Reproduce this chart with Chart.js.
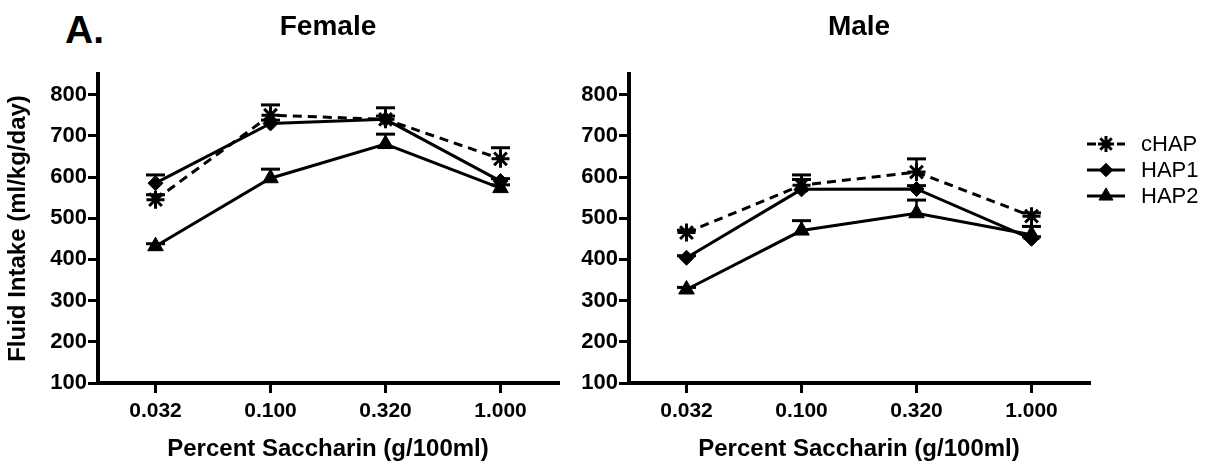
<!DOCTYPE html>
<html><head><meta charset="utf-8">
<script src="https://cdn.jsdelivr.net/npm/chart.js@4.4.1/dist/chart.umd.min.js"></script>
<style>
html,body{margin:0;padding:0;background:#fff;width:1222px;height:468px;overflow:hidden}
#c1{position:absolute;left:0;top:0}
#c2{position:absolute;left:575px;top:0}
#lab{position:absolute;left:65px;top:8px;font:bold 39px "Liberation Sans",Arial,sans-serif;color:#000}
</style></head><body>
<div id="lab">A.</div>
<canvas id="c1" width="575" height="468"></canvas>
<canvas id="c2" width="647" height="468"></canvas>
<script>
// ---- data ----
const categories = ['0.032', '0.100', '0.320', '1.000'];
const yTickValues = [100, 200, 300, 400, 500, 600, 700, 800];
const seriesNames = ['cHAP', 'HAP1', 'HAP2'];
const panelTitles = ['Female', 'Male'];

const femaleCHAP    = [545, 750, 740, 644];
const femaleCHAPErr = [12, 25, 28, 27];
const femaleHAP1    = [585, 730, 740, 590];
const femaleHAP1Err = [20, 8, 8, 6];
const femaleHAP2    = [432, 597, 680, 573];
const femaleHAP2Err = [6, 22, 24, 8];

const maleCHAP    = [465, 580, 612, 505];
const maleCHAPErr = [6, 25, 32, 8];
const maleHAP1    = [404, 570, 571, 450];
const maleHAP1Err = [5, 24, 8, 5];
const maleHAP2    = [327, 470, 512, 460];
const maleHAP2Err = [5, 24, 32, 20];

// ---- styles ----
const FONT = '"Liberation Sans", Arial, sans-serif';
Chart.defaults.font.family = FONT;
Chart.defaults.color = '#000';

const styles = [
  { pointStyle: 'star', pointRadius: 9, pointBorderWidth: 3, borderDash: [9, 6] },
  { pointStyle: 'rectRot', pointRadius: 7.5, pointBorderWidth: 1, borderDash: [] },
  { pointStyle: 'triangle', pointRadius: 9, pointBorderWidth: 1, borderDash: [] }
];

function makeDatasets(vals, errs) {
  return vals.map((v, i) => ({
    label: seriesNames[i],
    data: v,
    errorBars: errs[i],
    borderColor: '#000',
    backgroundColor: '#000',
    borderWidth: 3,
    borderDash: styles[i].borderDash,
    pointStyle: styles[i].pointStyle,
    pointRadius: styles[i].pointRadius,
    pointHoverRadius: styles[i].pointRadius,
    pointBorderWidth: styles[i].pointBorderWidth,
    pointBackgroundColor: '#000',
    pointBorderColor: '#000',
    fill: false,
    tension: 0,
    clip: false
  }));
}

const errorBarPlugin = {
  id: 'errorBars',
  beforeDatasetsDraw(chart) {
    const ctx = chart.ctx;
    const ys = chart.scales.y;
    ctx.save();
    ctx.strokeStyle = '#000';
    ctx.setLineDash([]);
    chart.data.datasets.forEach((ds, di) => {
      const meta = chart.getDatasetMeta(di);
      meta.data.forEach((pt, i) => {
        const e = ds.errorBars[i];
        const yTop = ys.getPixelForValue(ds.data[i] + e);
        ctx.lineWidth = 2.5;
        ctx.beginPath();
        ctx.moveTo(pt.x, pt.y);
        ctx.lineTo(pt.x, yTop);
        ctx.stroke();
        ctx.lineWidth = 3;
        ctx.beginPath();
        ctx.moveTo(pt.x - 9.5, yTop);
        ctx.lineTo(pt.x + 9.5, yTop);
        ctx.stroke();
      });
    });
    ctx.restore();
  }
};

const panelTitlePlugin = {
  id: 'panelTitle',
  afterDraw(chart, args, opts) {
    const ctx = chart.ctx;
    const a = chart.chartArea;
    ctx.save();
    ctx.font = 'bold 28px ' + FONT;
    ctx.fillStyle = '#000';
    ctx.textAlign = 'center';
    ctx.textBaseline = 'middle';
    ctx.fillText(opts.text, (a.left + a.right) / 2, opts.y);
    ctx.restore();
  }
};

const lineLegendPlugin = {
  id: 'lineLegend',
  afterDraw(chart, args, opts) {
    if (!opts.show) return;
    const ctx = chart.ctx;
    ctx.save();
    chart.data.datasets.forEach((ds, i) => {
      const y = opts.y0 + i * opts.dy;
      ctx.strokeStyle = '#000';
      ctx.lineWidth = 3;
      ctx.setLineDash(ds.borderDash || []);
      ctx.beginPath();
      ctx.moveTo(opts.x0, y);
      ctx.lineTo(opts.x0 + opts.len, y);
      ctx.stroke();
      ctx.setLineDash([]);
      ctx.fillStyle = '#000';
      ctx.lineWidth = ds.pointBorderWidth;
      Chart.helpers.drawPoint(ctx, { pointStyle: ds.pointStyle, radius: ds.pointRadius * 0.9, rotation: 0, borderWidth: ds.pointBorderWidth }, opts.x0 + opts.len / 2, y);
      ctx.font = '22px ' + FONT;
      ctx.textAlign = 'left';
      ctx.textBaseline = 'middle';
      ctx.fillText(ds.label, opts.x0 + opts.len + 16, y + 1);
    });
    ctx.restore();
  }
};

function makeChart(id, title, vals, errs, isLeft) {
  const xTickFont = { size: 21, weight: 'bold', family: FONT };
  const yTickFont = { size: 22, weight: 'bold', family: FONT };
  return new Chart(document.getElementById(id), {
    type: 'line',
    data: { labels: categories, datasets: makeDatasets(vals, errs) },
    plugins: [errorBarPlugin, panelTitlePlugin, lineLegendPlugin],
    options: {
      responsive: false,
      animation: false,
      devicePixelRatio: 1,
      layout: { padding: { left: 0, top: 74, bottom: 0, right: isLeft ? 17 : 133 } },
      plugins: {
        legend: { display: false },
        tooltip: { enabled: false },
        panelTitle: { text: title, y: 27 },
        lineLegend: { show: !isLeft, x0: 512, len: 38, y0: 144, dy: 26 }
      },
      scales: {
        x: {
          type: 'category',
          offset: true,
          grid: { display: true, drawOnChartArea: false, drawTicks: true, tickLength: 10, lineWidth: 3, color: '#000', offset: false },
          border: { display: true, width: 4, color: '#000' },
          ticks: { font: xTickFont, color: '#000', padding: 6, maxRotation: 0 },
          title: { display: true, text: 'Percent Saccharin (g/100ml)', font: { size: 24, weight: 'bold', family: FONT }, color: '#000', padding: { top: 4, bottom: 4 } },
          afterFit(s) { s.height = 85; }
        },
        y: {
          type: 'linear',
          min: 100,
          max: 850,
          ticks: { stepSize: 100, font: yTickFont, color: '#000', padding: 1 },
          afterBuildTicks(s) { s.ticks = yTickValues.map(v => ({ value: v })); },
          grid: { display: true, drawOnChartArea: false, drawTicks: true, tickLength: 10, lineWidth: 3, color: '#000' },
          border: { display: true, width: 4, color: '#000' },
          title: { display: isLeft, text: 'Fluid Intake (ml/kg/day)', font: { size: 24, weight: 'bold', family: FONT }, color: '#000', padding: { top: 4, bottom: 0 } },
          afterFit(s) { s.width = isLeft ? 98 : 54; }
        }
      }
    }
  });
}

makeChart('c1', panelTitles[0], [femaleCHAP, femaleHAP1, femaleHAP2], [femaleCHAPErr, femaleHAP1Err, femaleHAP2Err], true);
makeChart('c2', panelTitles[1], [maleCHAP, maleHAP1, maleHAP2], [maleCHAPErr, maleHAP1Err, maleHAP2Err], false);
</script>
</body></html>
